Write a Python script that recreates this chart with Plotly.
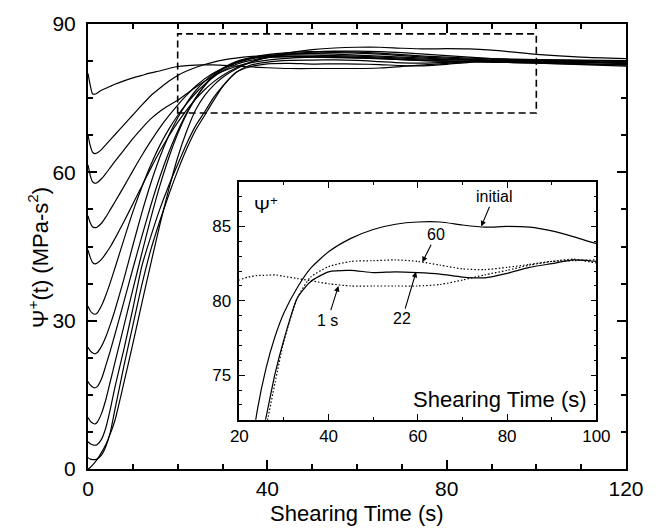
import plotly.graph_objects as go

# Shearing time grid (s)
time_s = [0, 0.5, 1, 1.5, 2, 3, 4, 5, 6, 8, 10, 12, 14, 16, 18, 20, 22, 24, 26, 28, 30,
          33, 36, 40, 45, 50, 55, 60, 65, 70, 75, 80, 85, 90, 95, 100, 110, 120]

# Psi+(t) curves (MPa-s^2)
psi_1s = [80.0, 77.6, 75.9, 75.8, 76.0, 76.6, 77.0, 77.4, 77.8, 78.5, 79.1, 79.6, 80.1, 80.5, 81.0, 81.4,
          81.6, 81.7, 81.72, 81.75, 81.65, 81.5, 81.35, 81.15, 81.0, 81.0, 81.0, 81.0, 81.1, 81.4, 81.75,
          82.05, 82.4, 82.65, 82.8, 82.55, 82.4, 82.3]
psi_b = [67.5, 65.4, 64.1, 63.8, 63.9, 64.6, 65.6, 66.6, 67.6, 69.6, 71.6, 73.6, 75.5, 77.0, 78.4, 79.6,
         80.5, 81.2, 81.8, 82.3, 82.7, 83.1, 83.4, 83.6, 83.7, 83.7, 83.6, 83.5, 83.3, 83.1, 82.9, 82.8,
         82.7, 82.6, 82.4, 82.3, 82.2, 82.2]
psi_c = [61.5, 59.4, 58.1, 57.8, 57.9, 58.7, 59.8, 61.0, 62.2, 64.5, 66.8, 68.9, 70.8, 72.3, 73.5, 74.6,
         75.9, 77.2, 78.4, 79.5, 80.4, 81.4, 82.1, 82.7, 83.1, 83.3, 83.4, 83.3, 83.1, 82.9, 82.7, 82.5,
         82.4, 82.3, 82.2, 82.1, 81.9, 81.8]
psi_d = [51.2, 49.8, 49.0, 48.8, 48.9, 49.7, 51.0, 52.5, 54.0, 57.1, 60.3, 63.4, 66.3, 69.0, 71.4, 73.6,
         75.6, 77.4, 78.9, 80.1, 81.0, 82.1, 82.9, 83.5, 83.9, 84.1, 84.2, 84.1, 83.9, 83.6, 83.3, 83.1,
         82.9, 82.7, 82.5, 82.3, 82.0, 81.7]
psi_e = [44.3, 42.8, 41.8, 41.5, 41.6, 42.4, 43.6, 45.0, 46.6, 50.0, 53.6, 57.2, 60.8, 64.2, 67.3, 70.1,
         72.6, 74.8, 76.7, 78.3, 79.6, 81.1, 82.2, 83.2, 83.9, 84.3, 84.5, 84.5, 84.4, 84.2, 83.9, 83.6,
         83.3, 83.0, 82.8, 82.6, 82.3, 82.1]
psi_f = [32.9, 32.0, 31.5, 31.3, 31.5, 33.0, 35.2, 37.8, 40.6, 46.4, 52.0, 57.0, 61.5, 65.4, 68.7, 71.5,
         73.9, 76.0, 77.8, 79.3, 80.5, 81.8, 82.6, 83.2, 83.4, 83.4, 83.3, 83.2, 83.0, 82.8, 82.6, 82.5,
         82.4, 82.3, 82.2, 82.1, 81.8, 81.5]
psi_g = [24.6, 23.9, 23.5, 23.3, 23.5, 24.8, 26.8, 29.3, 32.1, 38.4, 45.2, 51.8, 57.8, 63.0, 67.4, 71.0,
         74.0, 76.5, 78.4, 79.9, 81.0, 82.2, 83.0, 83.6, 83.9, 84.0, 83.9, 83.7, 83.5, 83.3, 83.1, 82.9,
         82.8, 82.7, 82.6, 82.5, 82.3, 82.1]
psi_h = [17.7, 17.0, 16.6, 16.4, 16.6, 18.2, 21.0, 24.0, 27.2, 33.8, 40.5, 47.0, 53.3, 59.0, 64.0, 68.3,
         72.0, 75.0, 77.5, 79.4, 80.8, 82.2, 83.1, 83.8, 84.2, 84.4, 84.4, 84.3, 84.1, 83.8, 83.5, 83.3,
         83.1, 83.0, 82.9, 82.8, 82.7, 82.6]
psi_i = [10.4, 9.7, 9.3, 9.1, 9.4, 11.2, 14.1, 17.8, 21.5, 28.9, 36.3, 43.6, 50.7, 57.2, 62.9, 67.8,
         71.8, 75.0, 77.6, 79.6, 81.0, 82.4, 83.1, 83.4, 83.4, 83.3, 83.2, 83.1, 83.0, 82.8, 82.6, 82.5,
         82.5, 82.4, 82.3, 82.3, 82.2, 82.2]
psi_22 = [5.5, 5.1, 4.9, 4.8, 4.9, 6.0, 8.4, 12.2, 16.5, 24.2, 32.4, 41.0, 47.0, 52.5, 57.3, 61.6,
          65.8, 69.4, 72.2, 75.1, 77.4, 80.2, 81.3, 81.95, 82.05, 81.9, 81.95, 81.9, 81.8, 81.6, 81.55, 81.85,
          82.25, 82.5, 82.75, 82.65, 82.4, 82.0]
psi_60 = [2.3, 2.0, 1.9, 1.9, 2.0, 2.8, 4.6, 7.5, 12.0, 20.8, 29.0, 37.2, 44.3, 50.1, 55.4, 60.3,
          64.7, 68.5, 71.5, 74.5, 77.3, 80.2, 81.6, 82.3, 82.65, 82.7, 82.75, 82.65, 82.4, 82.15, 82.1, 82.25,
          82.45, 82.65, 82.7, 82.75, 82.6, 82.4]
psi_initial = [0.0, 0.3, 0.8, 1.3, 1.9, 3.3, 5.0, 7.2, 9.8, 17.4, 25.3, 33.5, 41.5, 49.3, 56.5, 63.0,
               68.3, 72.6, 75.5, 77.6, 79.2, 80.9, 82.2, 83.3, 84.2, 84.8, 85.15, 85.3, 85.3, 85.1, 84.95, 85.0,
               84.95, 84.7, 84.3, 83.85, 83.3, 83.0]

main_curves = [psi_1s, psi_b, psi_c, psi_d, psi_e, psi_f, psi_g, psi_h, psi_i, psi_22, psi_60, psi_initial]

# Inset curves: (values, dash style)
inset_curves = [(psi_initial, "solid"), (psi_22, "solid"), (psi_60, "1.5px,2px"), (psi_1s, "1.5px,2px")]

# Axis ticks
main_xticks = [0, 40, 80, 120]
main_yticks = [0, 30, 60, 90]
inset_xticks = [20, 40, 60, 80, 100]
inset_yticks = [75, 80, 85]

FONT = "Liberation Sans, Arial, Helvetica, sans-serif"

fig = go.Figure()
for ys in main_curves:
    fig.add_trace(go.Scatter(x=time_s, y=ys, mode="lines",
                             line=dict(color="black", width=1.2, shape="spline", smoothing=0.6),
                             xaxis="x", yaxis="y", showlegend=False, hoverinfo="skip"))
for ys, dash in inset_curves:
    fig.add_trace(go.Scatter(x=time_s, y=ys, mode="lines",
                             line=dict(color="black", width=1.2, shape="spline", smoothing=0.6, dash=dash),
                             xaxis="x2", yaxis="y2", showlegend=False, hoverinfo="skip"))

# Dashed zoom rectangle in main axes
fig.add_shape(type="rect", xref="x", yref="y", x0=20, x1=100, y0=72, y1=88,
              line=dict(color="black", width=1.6, dash="7px,4px"), layer="above")

common = dict(showgrid=False, zeroline=False, showline=True, linecolor="black",
              ticks="inside", tickcolor="black", mirror="ticks")

fig.update_layout(
    width=656, height=532,
    margin=dict(l=88, r=18, t=16, b=63),
    paper_bgcolor="white", plot_bgcolor="white",
    font=dict(family=FONT, color="black"),
    xaxis=dict(range=[0, 120], domain=[0, 1], anchor="y", tickvals=main_xticks,
               linewidth=2, ticklen=9, tickwidth=1.5, tickfont=dict(size=21),
               ticklabelstandoff=0,
               minor=dict(ticks="inside", dtick=10, tick0=0, ticklen=5, tickwidth=1.5, tickcolor="black"),
               **common),
    yaxis=dict(range=[0, 90], domain=[0, 1], anchor="x", tickvals=main_yticks,
               linewidth=2, ticklen=9, tickwidth=1.5, tickfont=dict(size=21),
               ticklabelstandoff=6,
               minor=dict(ticks="inside", dtick=7.5, tick0=0, ticklen=5, tickwidth=1.5, tickcolor="black"),
               **common),
    xaxis2=dict(range=[20, 100], domain=[0.2813, 0.9449], anchor="y2", tickvals=inset_xticks,
                linewidth=1.5, ticklen=6, tickwidth=1.2, tickfont=dict(size=17),
                ticklabelstandoff=0,
                minor=dict(ticks="inside", dtick=10, tick0=0, ticklen=3, tickwidth=1.2, tickcolor="black"),
                **common),
    yaxis2=dict(range=[72, 88], domain=[0.1104, 0.6453], anchor="x2", tickvals=inset_yticks,
                linewidth=1.5, ticklen=6, tickwidth=1.2, tickfont=dict(size=17),
                ticklabelstandoff=3,
                minor=dict(ticks="inside", dtick=1, tick0=0, ticklen=3, tickwidth=1.2, tickcolor="black"),
                **common),
)

ann = []
# Main axis titles
ann.append(dict(text="Ψ<sup>+</sup>(t) (MPa-s<sup>2</sup>)", xref="paper", yref="paper",
                x=-0.0927, y=0.4746, textangle=-90, showarrow=False,
                font=dict(size=22, family=FONT), xanchor="center", yanchor="middle"))
ann.append(dict(text="Shearing Time (s)", xref="paper", yref="paper", x=0.5, y=-0.1,
                showarrow=False, font=dict(size=22, family=FONT), xanchor="center", yanchor="middle"))
# Inset texts
ann.append(dict(text="Ψ<sup>+</sup>", xref="x2", yref="y2", x=26.0, y=86.45, showarrow=False,
                font=dict(size=19, family=FONT)))
ann.append(dict(text="Shearing Time (s)", xref="x2", yref="y2", x=98.3, y=73.4, showarrow=False,
                xanchor="right", font=dict(size=22, family=FONT)))
# Labelled arrows
for label, tx, ty, lx, ly in [("initial", 74.2, 85.0, 77.0, 87.0),
                              ("60", 61.0, 82.6, 64.1, 84.45),
                              ("1 s", 42.2, 81.0, 39.8, 78.7),
                              ("22", 59.6, 81.95, 56.5, 78.8)]:
    ann.append(dict(text=label, xref="x2", yref="y2", x=tx, y=ty, axref="x2", ayref="y2",
                    ax=lx, ay=ly, showarrow=True, arrowhead=2, arrowsize=1, arrowwidth=1.1,
                    arrowcolor="black", standoff=0, font=dict(size=16, family=FONT)))
fig.update_layout(annotations=ann)

fig.write_html("out.html")
